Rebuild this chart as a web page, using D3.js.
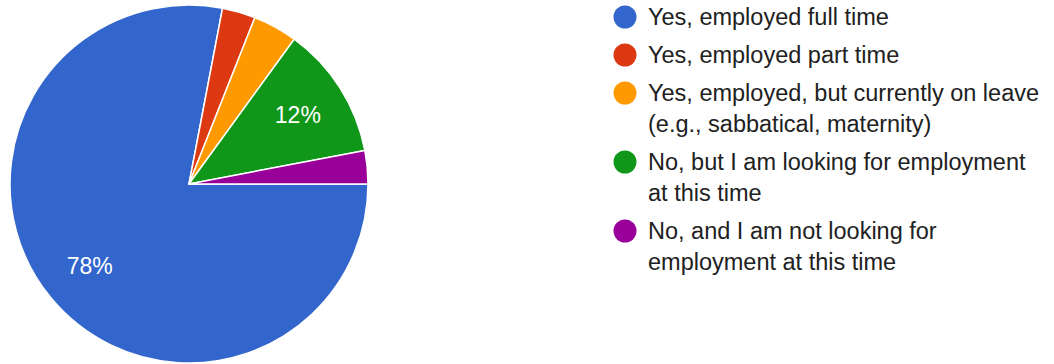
<!DOCTYPE html>
<html><head><meta charset="utf-8">
<script src="https://cdn.jsdelivr.net/npm/d3@7"></script>
<style>body{margin:0;background:#fff}svg{display:block}</style>
</head><body>
<svg id="c" width="1054" height="364"></svg>
<script>
const categories = [
  "Yes, employed full time",
  "Yes, employed part time",
  "Yes, employed, but currently on leave (e.g., sabbatical, maternity)",
  "No, but I am looking for employment at this time",
  "No, and I am not looking for employment at this time"
];
const legendLines = [
  ["Yes, employed full time"],
  ["Yes, employed part time"],
  ["Yes, employed, but currently on leave", "(e.g., sabbatical, maternity)"],
  ["No, but I am looking for employment", "at this time"],
  ["No, and I am not looking for", "employment at this time"]
];
const values = [78, 3, 4, 12, 3];
const colors = ["#3366cc", "#dc3912", "#ff9900", "#109618", "#990099"];

const svg = d3.select("#c");
const cx = 189, cy = 184, r = 179;
const total = d3.sum(values);
const pie = d3.pie().sort(null).startAngle(Math.PI/2).endAngle(Math.PI/2 + 2*Math.PI);
const arcs = pie(values);
const arc = d3.arc().innerRadius(0).outerRadius(r);
const labelArc = d3.arc().innerRadius(r*0.72).outerRadius(r*0.72);
const g = svg.append("g").attr("transform", `translate(${cx},${cy})`);
g.selectAll("path").data(arcs).join("path")
  .attr("d", arc).attr("fill", (d,i)=>colors[i])
  .attr("stroke", "#fff").attr("stroke-width", 1.5).attr("stroke-linejoin","round");
g.selectAll("text").data(arcs.filter(d => d.data/total >= 0.05)).join("text")
  .attr("transform", d => `translate(${labelArc.centroid(d)})`)
  .attr("text-anchor","middle").attr("dy","0.35em")
  .attr("fill","#fff").attr("font-family","Arial, 'Liberation Sans', sans-serif").attr("font-size",23)
  .text(d => Math.round(d.data/total*100) + "%");

const lg = svg.append("g");
let y = 17;
legendLines.forEach((lines, i) => {
  lg.append("circle").attr("cx", 625).attr("cy", y).attr("r", 11.5).attr("fill", colors[i]);
  lines.forEach((t, j) => {
    lg.append("text").attr("x", 648).attr("y", y + 8 + j*31)
      .attr("font-family","Arial, 'Liberation Sans', sans-serif").attr("font-size", 23.5)
      .attr("fill","#212121").text(t);
  });
  y += 38 + (lines.length - 1) * 31;
});
</script>
</body></html>
